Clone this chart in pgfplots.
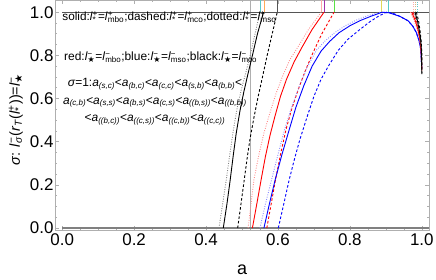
\documentclass[border=0pt]{standalone}
\usepackage{fontspec}
\setmainfont{Liberation Sans}
\newfontfamily\dejavu{DejaVu Sans}
\usepackage{pgfplots}
\pgfplotsset{compat=1.18}
\definecolor{fr}{RGB}{175,175,175}
\definecolor{pinkd}{RGB}{255,140,140}
\definecolor{lblue}{RGB}{140,140,255}
\definecolor{lgray}{RGB}{130,130,130}
\definecolor{tcyan}{RGB}{90,200,200}
\definecolor{torange}{RGB}{255,170,90}
\definecolor{tdark}{RGB}{85,85,85}
\definecolor{tpink}{RGB}{255,170,170}
\definecolor{tpurple}{RGB}{160,50,170}
\definecolor{tgreen}{RGB}{90,225,70}
\definecolor{tyellow}{RGB}{225,215,90}
\definecolor{ttan}{RGB}{215,185,130}
\newcommand\supsub[2]{\ooalign{\textsuperscript{#1}\cr\textsubscript{#2}}}
\newcommand\lp[2]{\textit{l}\supsub{#1}{#2}}
\newcommand\st{{\dejavu ★}}
\newcommand\ai[1]{\textit{a}\textsubscript{\textit{#1}}}
\pgfplotsset{
 rs/.style={red, line width=0.9bp},
 rd/.style={red, line width=0.9bp, dash pattern=on 2.6bp off 2bp},
 rp/.style={pinkd, line width=0.9bp, dash pattern=on 0.9bp off 1.5bp},
 bs/.style={blue, line width=0.9bp},
 bd/.style={blue, line width=0.9bp, dash pattern=on 2.6bp off 2bp},
 bp/.style={lblue, line width=0.9bp, dash pattern=on 0.9bp off 1.5bp},
 ks/.style={black, line width=0.9bp},
 kd/.style={black, line width=0.9bp, dash pattern=on 2.6bp off 2bp},
 kp/.style={lgray, line width=0.9bp, dash pattern=on 0.9bp off 1.5bp},
}
\begin{document}
\begin{tikzpicture}
\begin{axis}[
 scale only axis, width=374bp, height=230bp,
 xmin=-0.02, xmax=1.02, ymin=-0.0093, ymax=1.0565,
 xtick={0,0.2,0.4,0.6,0.8,1}, ytick={0,0.2,0.4,0.6,0.8,1},
 minor tick num=3,
 tick align=inside,
 major tick length=4bp, minor tick length=2.5bp,
 axis line style={fr, line width=0.8bp},
 every tick/.style={fr, line width=0.6bp},
 /pgf/number format/fixed, /pgf/number format/fixed zerofill,
 /pgf/number format/precision=1, /pgf/number format/assume math mode=true,
 tick label style={font=\fontsize{17}{17}\selectfont},
 yticklabel style={xshift=2bp},
 xlabel={a},
 xlabel style={at={(rel axis cs:0.5,-0.174)}, anchor=center, font=\fontsize{18}{18}\selectfont},
 ylabel={\textit{σ}: \lp{−}{\textit{σ}}(\textit{r}\textsubscript{\textit{T}}(\lp{+}{*}))=\lp{−}{\st}},
 ylabel style={at={(rel axis cs:-0.105,0.48)}, anchor=center, rotate=0, font=\fontsize{14.5}{14.5}\selectfont},
 clip=true,
]
\coordinate (sw) at (rel axis cs:0,0);
\coordinate (ne) at (rel axis cs:1,1);
% reference lines
\addplot[fr, line width=0.8bp] coordinates {(0.523,-0.02) (0.523,1.1)};
\addplot[gray, line width=1.4bp] coordinates {(0,0) (1.02,0)};
\addplot[tdark, line width=0.8bp] coordinates {(0,1) (1.02,1)};
% top marks
\addplot[tcyan, line width=0.8bp] coordinates {(0.552,1) (0.552,1.06)};
\addplot[torange, line width=0.8bp] coordinates {(0.562,1) (0.562,1.06)};
\addplot[tdark, line width=0.8bp] coordinates {(0.598,1) (0.598,1.06)};
\addplot[tpink, line width=0.8bp] coordinates {(0.721,1) (0.721,1.06)};
\addplot[tpurple, line width=0.8bp] coordinates {(0.729,1) (0.729,1.06)};
\addplot[tgreen, line width=0.8bp] coordinates {(0.756,1) (0.756,1.06)};
\addplot[tyellow, line width=0.8bp] coordinates {(0.888,1) (0.888,1.06)};
\addplot[tcyan, line width=0.8bp] coordinates {(0.908,1) (0.908,1.06)};
\addplot[tpink, line width=0.8bp, dash pattern=on 0.9bp off 1.5bp] coordinates {(0.976,1) (0.976,1.06)};
\addplot[ttan, line width=0.8bp, dash pattern=on 0.9bp off 1.5bp] coordinates {(0.982,1) (0.982,1.06)};
\addplot[tcyan, line width=0.8bp, dash pattern=on 0.9bp off 1.5bp] coordinates {(0.988,1) (0.988,1.06)};
% black curves
\addplot[kp] coordinates {(0.436,0) (0.446,0.11) (0.456,0.22) (0.466,0.34) (0.476,0.454) (0.487,0.56) (0.498,0.64) (0.509,0.71) (0.520,0.78) (0.535,0.89) (0.550,1.0)};
\addplot[ks] coordinates {(0.448,0) (0.458,0.11) (0.467,0.22) (0.476,0.34) (0.484,0.44) (0.494,0.54) (0.505,0.63) (0.516,0.71) (0.527,0.786) (0.543,0.90) (0.560,1.0)};
\addplot[kd] coordinates {(0.488,0) (0.497,0.11) (0.506,0.22) (0.514,0.32) (0.522,0.41) (0.533,0.51) (0.545,0.61) (0.557,0.70) (0.570,0.80) (0.584,0.90) (0.598,1.0)};
% red curves
\addplot[rp] coordinates {(0.517,0) (0.525,0.11) (0.533,0.222) (0.547,0.34) (0.561,0.44) (0.577,0.53) (0.594,0.62) (0.612,0.70) (0.633,0.78) (0.654,0.835) (0.685,0.92) (0.720,1.0)};
\addplot[rs] coordinates {(0.529,0) (0.541,0.11) (0.553,0.222) (0.565,0.33) (0.578,0.43) (0.592,0.52) (0.607,0.61) (0.624,0.69) (0.645,0.77) (0.666,0.835) (0.695,0.92) (0.728,1.0)};
\addplot[rd] coordinates {(0.569,0) (0.581,0.11) (0.593,0.222) (0.607,0.34) (0.622,0.454) (0.638,0.55) (0.656,0.64) (0.674,0.72) (0.694,0.80) (0.722,0.90) (0.756,1.0)};
% blue curves
\addplot[bp] coordinates {(0.550,0) (0.565,0.11) (0.582,0.222) (0.600,0.34) (0.618,0.454) (0.638,0.56) (0.660,0.66) (0.683,0.75) (0.707,0.824) (0.733,0.87) (0.760,0.908) (0.790,0.94) (0.820,0.965) (0.850,0.984) (0.885,1.0) (0.91,0.997) (0.94,0.98) (0.962,0.96) (0.975,0.935) (0.985,0.905) (0.992,0.87) (0.997,0.83) (1.0,0.74)};
\addplot[bs] coordinates {(0.561,0) (0.576,0.11) (0.592,0.222) (0.611,0.34) (0.631,0.454) (0.650,0.56) (0.672,0.66) (0.695,0.75) (0.720,0.82) (0.744,0.865) (0.770,0.905) (0.800,0.937) (0.830,0.962) (0.860,0.982) (0.890,1.0) (0.91,0.997) (0.94,0.98) (0.962,0.96) (0.975,0.935) (0.985,0.905) (0.992,0.87) (0.997,0.83) (1.0,0.74)};
\addplot[bd] coordinates {(0.601,0) (0.616,0.11) (0.631,0.222) (0.646,0.32) (0.661,0.41) (0.680,0.51) (0.700,0.61) (0.720,0.69) (0.742,0.755) (0.768,0.824) (0.795,0.875) (0.828,0.92) (0.855,0.955) (0.880,0.982) (0.902,1.0) (0.92,0.995) (0.94,0.98) (0.962,0.96) (0.975,0.935) (0.985,0.905) (0.992,0.87) (0.997,0.83) (1.0,0.74)};
% right descending parts (red / black)
\addplot[rp] coordinates {(0.968,1.0) (0.979,0.96) (0.988,0.915) (0.994,0.87) (0.998,0.82) (1.0,0.73)};
\addplot[rs] coordinates {(0.972,1.0) (0.982,0.96) (0.990,0.915) (0.995,0.87) (0.998,0.82) (1.0,0.73)};
\addplot[rd] coordinates {(0.976,1.0) (0.985,0.96) (0.992,0.915) (0.996,0.87) (0.999,0.82) (1.0,0.73)};
\addplot[kp] coordinates {(0.978,1.0) (0.986,0.96) (0.992,0.915) (0.996,0.87) (0.999,0.82) (1.0,0.72)};
\addplot[ks] coordinates {(0.981,1.0) (0.988,0.96) (0.993,0.915) (0.997,0.87) (0.999,0.82) (1.0,0.72)};
\addplot[kd] coordinates {(0.985,1.0) (0.991,0.96) (0.995,0.915) (0.998,0.87) (1.0,0.82) (1.0,0.71)};
% annotations
\node[anchor=west, inner sep=0pt, font=\fontsize{11.8}{14}\selectfont] at (axis cs:0,0.977)
 {solid:\lp{+}{*}=\lp{+}{mbo};dashed:\lp{+}{*}=\lp{+}{mco};dotted:\lp{+}{*}=\lp{+}{mso}};
\node[anchor=west, inner sep=0pt, font=\fontsize{12}{14}\selectfont] at (axis cs:0.005,0.79)
 {red:\lp{−}{\st}=\lp{−}{mbo};blue:\lp{−}{\st}=\lp{−}{mso};black:\lp{−}{\st}=\lp{−}{mco}};
\node[align=center, inner sep=0pt, font=\fontsize{12}{17.5}\selectfont] at (axis cs:0.258,0.585)
 {\textit{σ}=1:\ai{(s,c)}<\ai{(b,c)}<\ai{(c,c)}<\ai{(s,b)}<\ai{(b,b)}<\\
  \ai{(c,b)}<\ai{(s,s)}<\ai{(b,s)}<\ai{(c,s)}<\ai{((b,s))}<\ai{((b,b))}\\
  <\ai{((b,c))}<\ai{((c,s))}<\ai{((c,b))}<\ai{((c,c))}};
\end{axis}
\pgfresetboundingbox
\path ([shift={(-55bp,-50bp)}]sw) rectangle ([shift={(7bp,0bp)}]ne);
\end{tikzpicture}
\end{document}
